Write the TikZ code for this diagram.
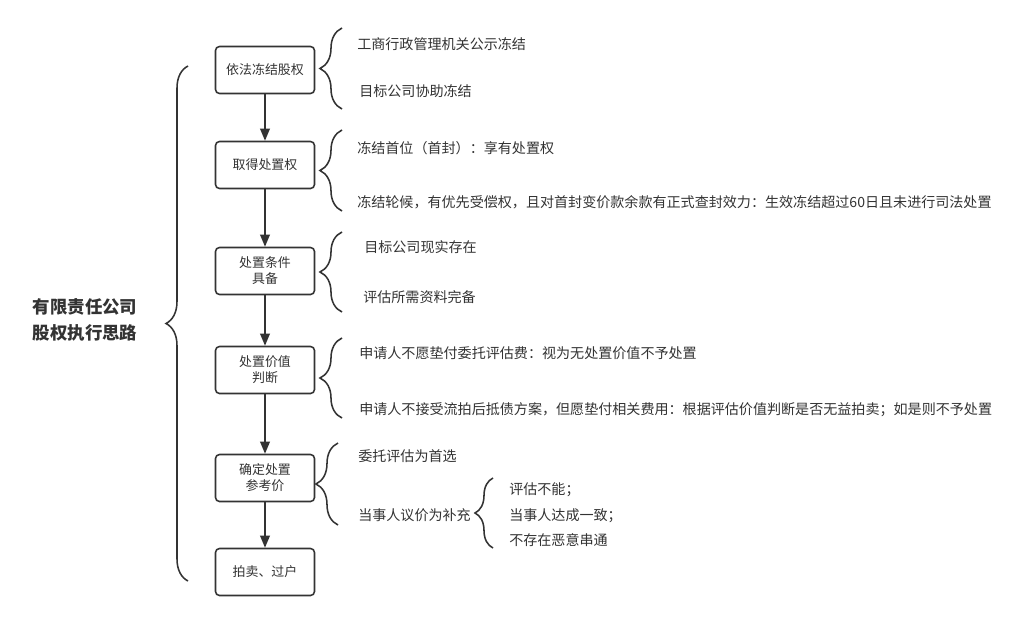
\documentclass[tikz,border=0pt]{standalone}
\usepackage{fontspec}
\setmainfont{Noto Sans CJK SC}
\usetikzlibrary{arrows.meta,decorations.pathreplacing}
\definecolor{TextoCinza}{HTML}{333333}
\definecolor{LinhaCinza}{HTML}{333333}

\begin{document}
\begin{tikzpicture}[
    x=0.025cm, y=-0.025cm,
    caixa/.style={draw=LinhaCinza, rounded corners=0.1cm, fill=white, line width=1.1pt, align=center, minimum width=2.475cm, minimum height=1.175cm, inner sep=2pt, text=TextoCinza, font=\fontsize{9.2pt}{11.3pt}\selectfont},
    item/.style={anchor=west, inner sep=0pt, text=TextoCinza, font=\fontsize{10pt}{12pt}\selectfont},
    seta/.style={-{Triangle[length=0.3cm, width=0.24cm]}, line width=1.1pt, draw=LinhaCinza},
    chave/.style={decorate, decoration={brace, amplitude=0.55cm}, line width=1.1pt, draw=LinhaCinza}
]

  % Fundo (tamanho da figura)
  \path[use as bounding box, fill=white] (0, 0) rectangle (1031, 619);

  % =========================================================================
  % TITULO E CHAVE PRINCIPAL
  % =========================================================================
  \node[align=center, text=TextoCinza, font=\fontsize{12.4pt}{18.4pt}\selectfont\bfseries] (titulo) at (85, 320) {有限责任公司\\股权执行思路};
  \draw[chave] (188, 581) -- (188, 66);

  % =========================================================================
  % ETAPAS (COLUNA CENTRAL)
  % =========================================================================
  \node[caixa] (no_congelar) at (265, 70) {依法冻结股权};
  \node[caixa] (no_direito) at (265, 165) {取得处置权};
  \node[caixa] (no_condicao) at (265, 271) {处置条件\\具备};
  \node[caixa] (no_valor) at (265, 370) {处置价值\\判断};
  \node[caixa] (no_preco) at (265, 478) {确定处置\\参考价};
  \node[caixa] (no_leilao) at (265, 572) {拍卖、过户};

  \draw[seta] (no_congelar) -- (no_direito);
  \draw[seta] (no_direito) -- (no_condicao);
  \draw[seta] (no_condicao) -- (no_valor);
  \draw[seta] (no_valor) -- (no_preco);
  \draw[seta] (no_preco) -- (no_leilao);

  % =========================================================================
  % DETALHES (LADO DIREITO)
  % =========================================================================
  % Congelamento
  \draw[chave] (342, 109) -- (342, 28);
  \node[item] (txt_gongshi) at (357, 44) {工商行政管理机关公示冻结};
  \node[item] (txt_xiezhu) at (359, 91) {目标公司协助冻结};

  % Direito de disposicao
  \draw[chave] (342, 211) -- (342, 130);
  \node[item] (txt_shoufeng) at (357, 148) {冻结首位（首封）：享有处置权};
  \node[item] (txt_lunhou) at (357, 202) {冻结轮候，有优先受偿权，且对首封变价款余款有正式查封效力：生效冻结超过60日且未进行司法处置};

  % Condicoes
  \draw[chave] (342, 312) -- (342, 232);
  \node[item] (txt_cunzai) at (364, 247) {目标公司现实存在};
  \node[item] (txt_ziliao) at (363, 297) {评估所需资料完备};

  % Valor de disposicao
  \draw[chave] (342, 418) -- (342, 338);
  \node[item] (txt_dianfu) at (359, 353) {申请人不愿垫付委托评估费：视为无处置价值不予处置};
  \node[item] (txt_liupai) at (359, 410) {申请人不接受流拍后抵债方案，但愿垫付相关费用：根据评估价值判断是否无益拍卖；如是则不予处置};

  % Preco de referencia
  \draw[chave] (338, 525) -- (338, 443);
  \node[item] (txt_pinggu) at (358, 456) {委托评估为首选};
  \node[item] (txt_yijia) at (358, 515) {当事人议价为补充};

  \draw[chave, decoration={brace, amplitude=0.45cm}] (493, 548) -- (493, 478);
  \node[item] (txt_buneng) at (509, 490) {评估不能；};
  \node[item] (txt_yizhi) at (509, 516) {当事人达成一致；};
  \node[item] (txt_chuantong) at (509, 540) {不存在恶意串通};

\end{tikzpicture}
\end{document}
